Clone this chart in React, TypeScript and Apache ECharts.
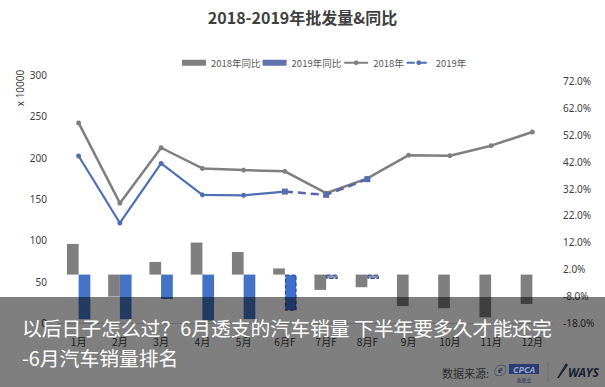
import React, { useEffect, useRef } from "react";
import * as echarts from "echarts";

const months = ["1月", "2月", "3月", "4月", "5月", "6月F", "7月F", "8月F", "9月", "10月", "11月", "12月"];
const sales2018 = [242, 145, 212, 187, 185, 183.5, 157, 175, 203, 202.4, 214.5, 231];
const sales2019 = [202, 121, 193, 155, 154.5, 159, null, null, null, null, null, null];
const sales2019F = [null, null, null, null, null, 159, 155, 174, null, null, null, null];
const yoy2018 = [11.4, -8.2, 4.7, 11.9, 8.4, 2.3, -5.7, -4.7, -11.7, -12.5, -15.9, -10.9];
const yoy2019 = [-16.6, -16.6, -9.1, -17.1, -16.5, -13.4, -1.6, -1.6, null, null, null, null];
const leftTicks = [0, 300, 50];
const rightTicks = [-18, 74.2, 10];
const titleText = "2018-2019年批发量&同比";
const captionLine1 = "以后日子怎么过？6月透支的汽车销量 下半年要多久才能还完";
const captionLine2 = "-6月汽车销量排名";

const FONT = "'Noto Sans', 'Noto Sans CJK SC', sans-serif";
const CJK = "'Noto Sans CJK SC', 'Noto Sans', sans-serif";

export default function App() {
  const ref = useRef<HTMLDivElement>(null);
  useEffect(() => {
    if (!ref.current) return;
    const chart = echarts.init(ref.current, null, { renderer: "svg" });
    const isF = (m: string) => m.endsWith("F");
    const yoy2019Data = yoy2019.map((v, i) =>
      isF(months[i]) && v !== null
        ? {
            value: v,
            itemStyle: {
              color: i === 5 ? "#3f6fcc" : "#8a94b4",
              borderColor: "#2a3d80",
              borderWidth: 1,
              borderType: "dashed",
            },
          }
        : v
    );
    chart.setOption({
      animation: false,
      title: {
        text: titleText,
        left: "center",
        top: 4,
        textStyle: { fontFamily: CJK, fontSize: 16, fontWeight: "bold", color: "#404040" },
      },
      legend: {
        top: 53,
        left: 177,
        itemWidth: 24,
        itemHeight: 6,
        itemGap: 2,
        textStyle: { fontFamily: CJK, fontSize: 9.5, color: "#595959" },
        data: [
          { name: "2018年同比", icon: "rect" },
          { name: "2019年同比", icon: "rect", itemStyle: { color: "#6173aa" } },
          { name: "2018年" },
          { name: "2019年", lineStyle: { type: "dashed" } },
        ],
      },
      grid: { left: 58, right: 52, top: 75, bottom: 64 },
      xAxis: {
        type: "category",
        data: months,
        axisTick: { show: false },
        axisLine: { lineStyle: { color: "#d9d9d9" } },
        axisLabel: { fontFamily: CJK, fontSize: 10, color: "#404040", margin: 13 },
      },
      yAxis: [
        {
          type: "value",
          min: leftTicks[0],
          max: leftTicks[1],
          interval: leftTicks[2],
          splitLine: { show: false },
          axisLine: { show: false },
          axisTick: { show: false },
          axisLabel: { fontFamily: FONT, fontSize: 10, color: "#404040", margin: 11 },
        },
        {
          type: "value",
          min: rightTicks[0],
          max: rightTicks[1],
          interval: rightTicks[2],
          position: "right",
          alignTicks: false,
          splitLine: { show: false },
          axisLine: { show: false },
          axisTick: { show: false },
          axisLabel: {
            fontFamily: FONT,
            fontSize: 10,
            color: "#404040",
            margin: 10,
            showMaxLabel: false,
            formatter: (v: number) => v.toFixed(1) + "%",
          },
        },
      ],
      series: [
        {
          name: "2018年同比",
          type: "bar",
          yAxisIndex: 1,
          data: yoy2018,
          barWidth: 11.7,
          barGap: "0%",
          itemStyle: { color: "#7f7f7f" },
        },
        {
          name: "2019年同比",
          type: "bar",
          yAxisIndex: 1,
          data: yoy2019Data,
          barWidth: 11.7,
          barGap: "0%",
          itemStyle: { color: "#4472c4" },
        },
        {
          name: "2018年",
          type: "line",
          data: sales2018,
          symbol: "circle",
          symbolSize: 5,
          lineStyle: { color: "#7f7f7f", width: 2.5 },
          itemStyle: { color: "#7f7f7f" },
        },
        {
          name: "2019年",
          type: "line",
          data: sales2019,
          symbol: "circle",
          symbolSize: 5,
          lineStyle: { color: "#4e6fb2", width: 2.2 },
          itemStyle: { color: "#4e6fb2" },
        },
        {
          name: "2019年预测",
          type: "line",
          data: sales2019F,
          symbol: "rect",
          symbolSize: 6,
          lineStyle: { color: "#5a64a8", width: 2.5, type: [8, 5] },
          itemStyle: { color: "#5a6cb0" },
        },
      ],
      graphic: [
        {
          type: "text",
          x: 20,
          y: 88,
          rotation: Math.PI / 2,
          style: {
            text: "x 10000",
            font: `10px ${FONT}`,
            fill: "#404040",
            align: "center",
            verticalAlign: "middle",
          },
        },
        {
          type: "rect",
          z: 100,
          shape: { x: 0, y: 297, width: 605, height: 90 },
          style: { fill: "rgba(0,0,0,0.5)" },
        },
        {
          type: "text",
          z: 101,
          x: 22,
          y: 327,
          style: {
            text: captionLine1,
            font: `19.8px ${CJK}`,
            fill: "#ffffff",
            verticalAlign: "middle",
          },
        },
        {
          type: "text",
          z: 101,
          x: 22,
          y: 357,
          style: {
            text: captionLine2,
            font: `19.8px ${CJK}`,
            fill: "#ffffff",
            verticalAlign: "middle",
          },
        },
        {
          type: "text",
          z: 101,
          x: 442,
          y: 373,
          style: { text: "数据来源:", font: `11px ${CJK}`, fill: "#2e2e2e", verticalAlign: "middle" },
        },
        {
          type: "text",
          z: 101,
          x: 493,
          y: 370,
          style: { text: "ⓔ", font: `italic bold 12px ${FONT}`, fill: "#24325a", verticalAlign: "middle" },
        },
        {
          type: "rect",
          z: 101,
          shape: { x: 509, y: 364, width: 30, height: 10 },
          style: { fill: "#2b3c72" },
        },
        {
          type: "text",
          z: 102,
          x: 524,
          y: 369,
          style: {
            text: "CPCA",
            font: `italic bold 9px ${FONT}`,
            fill: "#9aa6c8",
            align: "center",
            verticalAlign: "middle",
          },
        },
        {
          type: "text",
          z: 101,
          x: 524,
          y: 379,
          style: {
            text: "乘联会",
            font: `5px ${CJK}`,
            fill: "#2b3456",
            align: "center",
            verticalAlign: "middle",
          },
        },
        {
          type: "line",
          z: 101,
          shape: { x1: 548, y1: 362, x2: 548, y2: 382 },
          style: { stroke: "#6e6e6e", lineWidth: 1 },
        },
        {
          type: "polygon",
          z: 101,
          shape: { points: [[557, 378], [566, 363], [568, 365], [559, 378]] },
          style: { fill: "#1f2838" },
        },
        {
          type: "text",
          z: 101,
          x: 568,
          y: 372,
          style: { text: "WAYS", font: `italic bold 12px ${FONT}`, fill: "#1b2233", verticalAlign: "middle" },
        },
      ],
    });
    return () => chart.dispose();
  }, []);
  return (
    <div
      ref={ref}
      style={{ position: "fixed", left: 0, top: 0, width: 605, height: 387, background: "#ffffff" }}
    />
  );
}
